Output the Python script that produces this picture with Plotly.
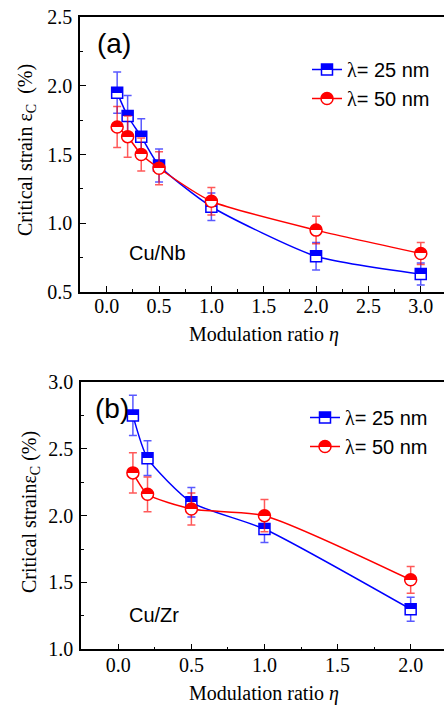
import plotly.graph_objects as go

# ---- data: critical strain vs modulation ratio ----
# (a) Cu/Nb multilayers
eta_nb = [0.1, 0.2, 0.33, 0.5, 1.0, 2.0, 3.0]
nb_25 = [1.95, 1.78, 1.63, 1.42, 1.12, 0.76, 0.63]
nb_25_err = [0.15, 0.15, 0.13, 0.12, 0.10, 0.10, 0.08]
nb_50 = [1.70, 1.63, 1.50, 1.40, 1.16, 0.95, 0.78]
nb_50_err = [0.15, 0.15, 0.12, 0.12, 0.10, 0.10, 0.08]

# (b) Cu/Zr multilayers
eta_zr = [0.1, 0.2, 0.5, 1.0, 2.0]
zr_25 = [2.75, 2.43, 2.10, 1.90, 1.30]
zr_25_err = [0.15, 0.13, 0.11, 0.10, 0.09]
zr_50 = [2.32, 2.16, 2.05, 2.00, 1.52]
zr_50_err = [0.15, 0.13, 0.12, 0.12, 0.10]

series_names = [
    "<span style=\"font-family:Liberation Serif\">λ</span>= 25 nm",
    "<span style=\"font-family:Liberation Serif\">λ</span>= 50 nm",
]

BLUE = "#0000FF"
RED = "#FF0000"
SERIF = "Liberation Serif"
SANS = "Liberation Sans"


def series(x, y, err, name, color, symbol, size, xa, ya, legend):
    rgb = "0,0,255" if color == BLUE else "255,0,0"
    return go.Scatter(
        x=x, y=y, name=name, mode="lines+markers",
        xaxis=xa, yaxis=ya, legend=legend,
        line=dict(color=color, width=1.5, shape="spline", smoothing=0.6),
        marker=dict(symbol=symbol, size=size, color=color,
                    line=dict(color=color, width=1.5),
                    gradient=dict(type="vertical", color="white")),
        error_y=dict(type="data", array=err, visible=True,
                     color=f"rgba({rgb},0.65)", thickness=1.5, width=4),
    )


fig = go.Figure()
fig.add_trace(series(eta_nb, nb_25, nb_25_err, series_names[0], BLUE, "square", 11, "x", "y", "legend"))
fig.add_trace(series(eta_nb, nb_50, nb_50_err, series_names[1], RED, "circle", 12, "x", "y", "legend"))
fig.add_trace(series(eta_zr, zr_25, zr_25_err, series_names[0], BLUE, "square", 11, "x2", "y2", "legend2"))
fig.add_trace(series(eta_zr, zr_50, zr_50_err, series_names[1], RED, "circle", 12, "x2", "y2", "legend2"))

W, H = 444, 706


def px_x(p):
    return p / W


def px_y(p):
    return 1 - p / H


axis_common = dict(
    showline=True, linecolor="black", linewidth=1.5,
    ticks="inside", ticklen=6, tickwidth=1.2, tickcolor="black",
    showgrid=False, zeroline=False, automargin=False,
    tickfont=dict(family=SERIF, size=20, color="black"),
)
minor_ticks = dict(ticks="inside", ticklen=3, dtick=0.25, tickcolor="black", tickwidth=1.2)
legend_font = dict(family=SANS, size=20, color="black")

fig.update_layout(
    width=W, height=H,
    margin=dict(l=0, r=0, t=0, b=0, autoexpand=False),
    paper_bgcolor="white", plot_bgcolor="white",
    xaxis=dict(domain=[px_x(80), 1], range=[-0.255, 3.222], dtick=0.5,
               tickformat=".1f", mirror=True, anchor="y", minor=minor_ticks,
               ticklabelstandoff=-5, **axis_common),
    yaxis=dict(domain=[px_y(292), px_y(17)], range=[0.5, 2.5], dtick=0.5,
               tickformat=".1f", anchor="x", minor=minor_ticks,
               ticklabelstandoff=2, **axis_common),
    xaxis2=dict(domain=[px_x(81), 1], range=[-0.255, 2.228], dtick=0.5,
                tickformat=".1f", mirror=True, anchor="y2", minor=minor_ticks,
                ticklabelstandoff=-3, **axis_common),
    yaxis2=dict(domain=[px_y(649.3), px_y(382)], range=[1.0, 3.0], dtick=0.5,
                tickformat=".1f", anchor="x2", minor=minor_ticks,
                ticklabelstandoff=2, **axis_common),
    legend=dict(x=px_x(307), y=px_y(50), xanchor="left", yanchor="top",
                bgcolor="rgba(0,0,0,0)", borderwidth=0,
                font=legend_font, tracegroupgap=0),
    legend2=dict(x=px_x(305), y=px_y(398), xanchor="left", yanchor="top",
                 bgcolor="rgba(0,0,0,0)", borderwidth=0,
                 font=legend_font, tracegroupgap=0),
    showlegend=True,
)

# axis titles
xtitle = "Modulation ratio <i>η</i>"
ytitle_a = "Critical strain ε<sub>C</sub>\u00a0\u00a0(%)"
ytitle_b = "Critical strainε<sub>C</sub>\u00a0(%)"
titles = [
    (xtitle, 264, 334, 0),
    (xtitle, 264, 693, 0),
    (ytitle_a, 27, 150, -90),
    (ytitle_b, 30, 512, -90),
]
for text, cx, cy, ang in titles:
    fig.add_annotation(text=text, xref="paper", yref="paper", x=px_x(cx), y=px_y(cy),
                       xanchor="center", yanchor="middle", textangle=ang, showarrow=False,
                       font=dict(family=SERIF, size=20, color="black"))

# panel labels and material system labels
labels = [
    ("(a)", 95, 44, 28),
    ("Cu/Nb", 127, 253, 20),
    ("(b)", 93, 409, 28),
    ("Cu/Zr", 127, 615, 20),
]
for text, lx, cy, fs in labels:
    fig.add_annotation(text=text, xref="paper", yref="paper", x=px_x(lx), y=px_y(cy),
                       xanchor="left", yanchor="middle", showarrow=False,
                       font=dict(family=SANS, size=fs, color="black"))

# Half-filled markers: make the vertical marker gradients switch colour sharply at mid-height
half_fill_js = """
var gd = document.getElementById('{plot_id}');
function hardStops() {
  document.querySelectorAll('linearGradient stop').forEach(function(s) {
    s.setAttribute('offset', '50%');
  });
}
hardStops();
gd.on('plotly_afterplot', hardStops);
"""

fig.write_html("out.html", post_script=half_fill_js)
